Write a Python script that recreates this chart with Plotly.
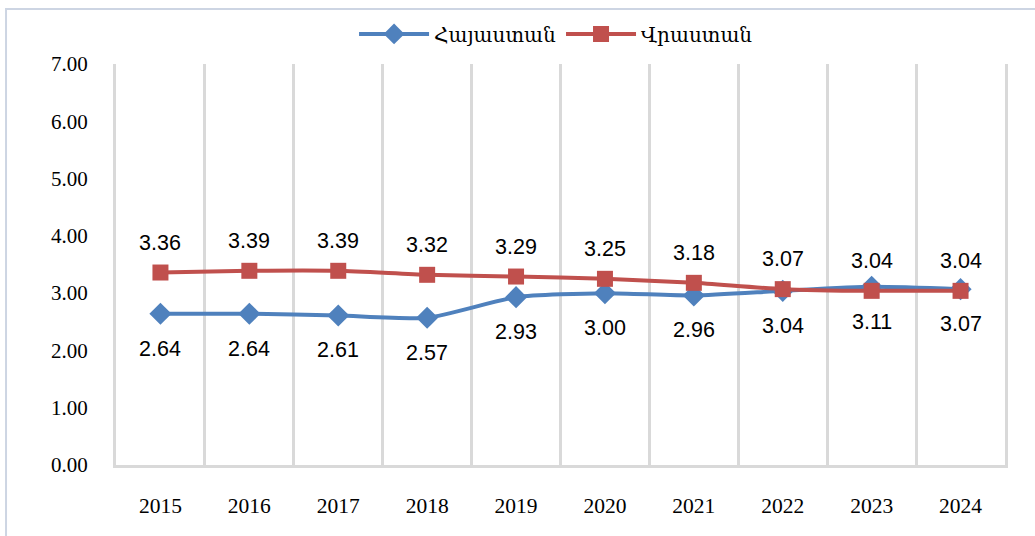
import plotly.graph_objects as go

years = ["2015", "2016", "2017", "2018", "2019", "2020", "2021", "2022", "2023", "2024"]
armenia = [2.64, 2.64, 2.61, 2.57, 2.93, 3.00, 2.96, 3.04, 3.11, 3.07]
georgia = [3.36, 3.39, 3.39, 3.32, 3.29, 3.25, 3.18, 3.07, 3.04, 3.04]
name_am = "Հայաստան"
name_ge = "Վրաստան"
y_ticks = [0, 1, 2, 3, 4, 5, 6, 7]

BLUE = "#4F81BD"
RED = "#C0504D"
GRID = "#D9D9D9"

xi = list(range(len(years)))
bounds = [i - 0.5 for i in range(len(years) + 1)]

fig = go.Figure()
fig.add_trace(go.Scatter(
    x=xi, y=armenia, name=name_am, mode="lines+markers",
    line=dict(color=BLUE, width=4, shape="spline", smoothing=0.6),
    marker=dict(symbol="diamond", size=17, color=BLUE),
))
fig.add_trace(go.Scatter(
    x=xi, y=georgia, name=name_ge, mode="lines+markers",
    line=dict(color=RED, width=4, shape="spline", smoothing=0.6),
    marker=dict(symbol="square", size=16, color=RED),
))

annotations = []
for x, v in zip(xi, georgia):
    annotations.append(dict(x=x, y=v, xref="x", yref="y", text=f"{v:.2f}", showarrow=False,
                            yshift=30, font=dict(family="Liberation Sans, Arial", size=21.5, color="#000")))
for x, v in zip(xi, armenia):
    annotations.append(dict(x=x, y=v, xref="x", yref="y", text=f"{v:.2f}", showarrow=False,
                            yshift=-35, font=dict(family="Liberation Sans, Arial", size=21.5, color="#000")))

fig.update_layout(
    width=1035, height=536,
    margin=dict(l=116, r=30, t=64, b=71, autoexpand=False),
    paper_bgcolor="white", plot_bgcolor="white",
    showlegend=True,
    legend=dict(orientation="h", x=0.495, xanchor="center", y=1.075, yanchor="middle",
                font=dict(family="Liberation Serif, DejaVu Serif, serif", size=20, color="#000"),
                itemwidth=70, bgcolor="rgba(0,0,0,0)", traceorder="normal"),
    annotations=annotations,
    font=dict(family="Liberation Serif, DejaVu Serif, serif", size=19, color="#000"),
    shapes=[dict(type="rect", xref="paper", yref="paper",
                 x0=-0.1237, x1=1.05, y0=-0.2, y1=1.137,
                 line=dict(color="#CDD5E3", width=2), fillcolor="rgba(0,0,0,0)", layer="below")],
)
fig.update_xaxes(range=[-0.5, len(years) - 0.5], tickvals=xi, ticktext=years,
                 showgrid=False, zeroline=False,
                 minor=dict(tickvals=bounds, showgrid=True, gridcolor=GRID, gridwidth=3, ticks=""),
                 showline=True, linecolor=GRID, linewidth=3, mirror=False,
                 ticks="", ticklabelstandoff=19,
                 tickfont=dict(family="Liberation Serif, serif", size=21.5, color="#000"))
fig.update_yaxes(range=[0, 7], tickvals=y_ticks, ticktext=[f"{t:.2f}" for t in y_ticks],
                 showgrid=False, zeroline=False,
                 showline=True, linecolor=GRID, linewidth=3, mirror=True,
                 ticks="", ticklabelstandoff=21,
                 tickfont=dict(family="Liberation Serif, serif", size=21, color="#000"))

fig.write_html("out.html", config={"displayModeBar": False},
               post_script="document.body.style.margin='0';")
